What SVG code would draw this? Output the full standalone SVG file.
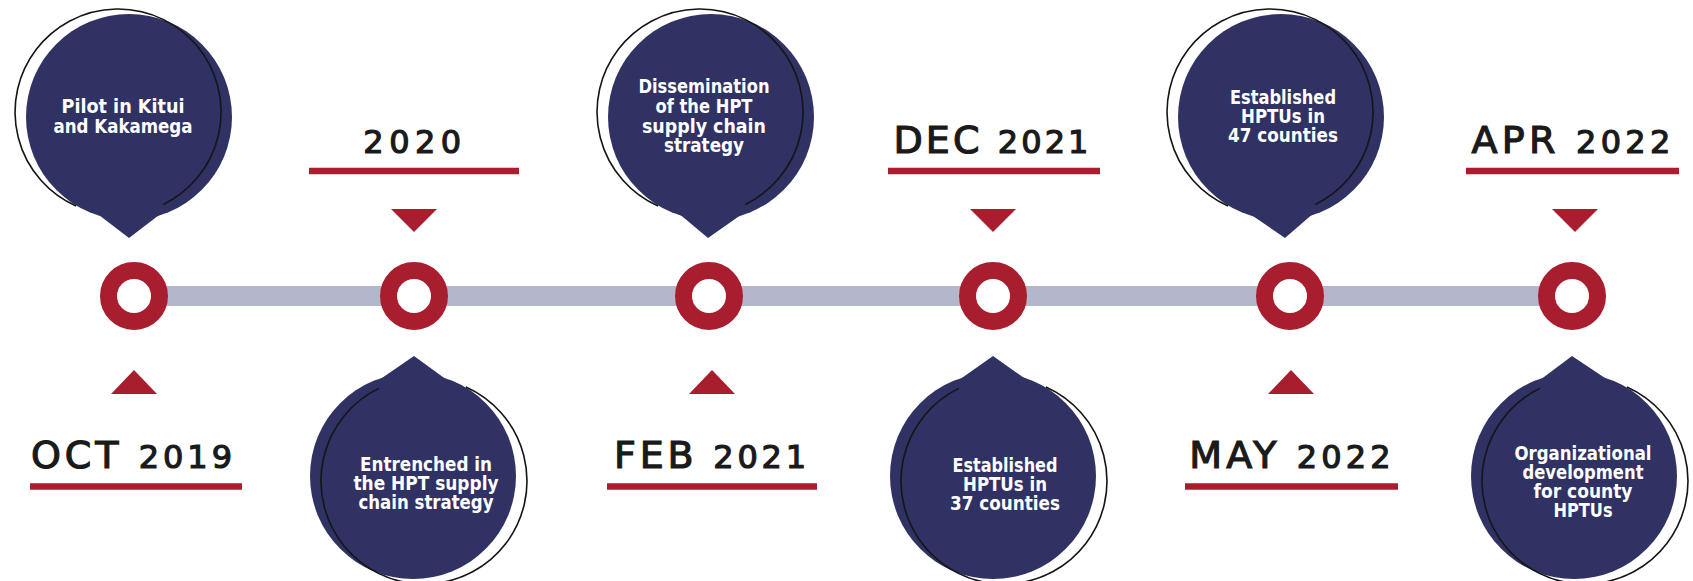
<svg xmlns="http://www.w3.org/2000/svg" width="1693" height="581" viewBox="0 0 1693 581">
<style>
.pin{fill:#2f3263}
.ol{fill:none;stroke:#151515;stroke-width:1.6}
.ring{fill:#ffffff;stroke:#a81e2e;stroke-width:17}
.tri{fill:#a81e2e}
.ul{stroke:#a81e2e;stroke-width:6.5}
.pt{font-family:"Liberation Sans Narrow","DejaVu Sans Condensed","Liberation Sans",sans-serif;font-weight:bold;font-size:19px;fill:#ffffff;text-anchor:middle}
.dt{font-family:"DejaVu Sans",sans-serif;font-size:38px;fill:#1a1a1a;stroke:#1a1a1a;stroke-width:1.2;text-anchor:middle}
.yr{font-size:32px}
</style>
<g id="connectors">
<rect x="134" y="286" width="1438" height="20" fill="#b4b6cc"/>
</g>
<g id="timeline-markers">
<circle class="ring" cx="134" cy="296" r="25.5"/>
<circle class="ring" cx="414" cy="296" r="25.5"/>
<circle class="ring" cx="709" cy="296" r="25.5"/>
<circle class="ring" cx="993" cy="296" r="25.5"/>
<circle class="ring" cx="1290" cy="296" r="25.5"/>
<circle class="ring" cx="1572" cy="296" r="25.5"/>
</g>
<g id="date-oct-2019">
<polygon class="tri" points="111,394 157,394 134,370"/>
<line class="ul" x1="30" y1="486.5" x2="242" y2="486.5"/>
<text class="dt" x="133.5" y="468" letter-spacing="4">OCT <tspan class="yr">2019</tspan></text>
</g>
<g id="date-2020">
<polygon class="tri" points="391,209 437,209 414,232"/>
<line class="ul" x1="309" y1="171" x2="519" y2="171"/>
<text class="dt" x="415" y="153" letter-spacing="5.5"><tspan class="yr">2020</tspan></text>
</g>
<g id="date-feb-2021">
<polygon class="tri" points="689,394 735,394 712,370"/>
<line class="ul" x1="607" y1="486.5" x2="817" y2="486.5"/>
<text class="dt" x="712" y="468" letter-spacing="3.8">FEB <tspan class="yr">2021</tspan></text>
</g>
<g id="date-dec-2021">
<polygon class="tri" points="970,209 1016,209 993,232"/>
<line class="ul" x1="888" y1="171" x2="1100" y2="171"/>
<text class="dt" x="992.5" y="153" letter-spacing="3.1">DEC <tspan class="yr">2021</tspan></text>
</g>
<g id="date-may-2022">
<polygon class="tri" points="1268,394 1314,394 1291,370"/>
<line class="ul" x1="1185" y1="486.5" x2="1398" y2="486.5"/>
<text class="dt" x="1292" y="468" letter-spacing="4.1">MAY <tspan class="yr">2022</tspan></text>
</g>
<g id="date-apr-2022">
<polygon class="tri" points="1552,209 1598,209 1575,232"/>
<line class="ul" x1="1466" y1="171" x2="1679" y2="171"/>
<text class="dt" x="1573" y="153" letter-spacing="4.3">APR <tspan class="yr">2022</tspan></text>
</g>
<g id="pin-pilot">
<circle class="pin" cx="129" cy="117" r="103"/>
<path class="pin" d="M95 212 L129 238 L163 212 Z"/>
<path class="ol" d="M76.1 206.1 A103 103 0 1 1 163.2 204.6"/>
<text class="pt" x="123" y="113" textLength="123" lengthAdjust="spacingAndGlyphs">Pilot in Kitui</text>
<text class="pt" x="123" y="133" textLength="139" lengthAdjust="spacingAndGlyphs">and Kakamega</text>
</g>
<g id="pin-entrenched">
<circle class="pin" cx="413" cy="476" r="103"/>
<path class="pin" d="M379 380 L414 356 L447 380 Z"/>
<path class="ol" d="M465.9 386.9 A103 103 0 1 1 378.8 388.4"/>
<text class="pt" x="426" y="471" textLength="132" lengthAdjust="spacingAndGlyphs">Entrenched in</text>
<text class="pt" x="426" y="490" textLength="145" lengthAdjust="spacingAndGlyphs">the HPT supply</text>
<text class="pt" x="426" y="509" textLength="135" lengthAdjust="spacingAndGlyphs">chain strategy</text>
</g>
<g id="pin-dissemination">
<circle class="pin" cx="711" cy="117" r="103"/>
<path class="pin" d="M677 212 L708 238 L745 212 Z"/>
<path class="ol" d="M658.1 206.1 A103 103 0 1 1 745.2 204.6"/>
<text class="pt" x="704" y="93" textLength="131" lengthAdjust="spacingAndGlyphs">Dissemination</text>
<text class="pt" x="704" y="113" textLength="97" lengthAdjust="spacingAndGlyphs">of the HPT</text>
<text class="pt" x="704" y="133" textLength="124" lengthAdjust="spacingAndGlyphs">supply chain</text>
<text class="pt" x="704" y="152" textLength="80" lengthAdjust="spacingAndGlyphs">strategy</text>
</g>
<g id="pin-established-37">
<circle class="pin" cx="993" cy="476" r="103"/>
<path class="pin" d="M959 380 L993 356 L1027 380 Z"/>
<path class="ol" d="M1045.9 386.9 A103 103 0 1 1 958.8 388.4"/>
<text class="pt" x="1005" y="472" textLength="105" lengthAdjust="spacingAndGlyphs">Established</text>
<text class="pt" x="1005" y="491" textLength="84" lengthAdjust="spacingAndGlyphs">HPTUs in</text>
<text class="pt" x="1005" y="510" textLength="110" lengthAdjust="spacingAndGlyphs">37 counties</text>
</g>
<g id="pin-established-47">
<circle class="pin" cx="1281" cy="117" r="103"/>
<path class="pin" d="M1247 212 L1285 238 L1315 212 Z"/>
<path class="ol" d="M1228.1 206.1 A103 103 0 1 1 1315.2 204.6"/>
<text class="pt" x="1283" y="104" textLength="106" lengthAdjust="spacingAndGlyphs">Established</text>
<text class="pt" x="1283" y="123" textLength="84" lengthAdjust="spacingAndGlyphs">HPTUs in</text>
<text class="pt" x="1283" y="142" textLength="110" lengthAdjust="spacingAndGlyphs">47 counties</text>
</g>
<g id="pin-organizational">
<circle class="pin" cx="1574" cy="476" r="103"/>
<path class="pin" d="M1540 380 L1572 356 L1608 380 Z"/>
<path class="ol" d="M1626.9 386.9 A103 103 0 1 1 1539.8 388.4"/>
<text class="pt" x="1583" y="460" textLength="137" lengthAdjust="spacingAndGlyphs">Organizational</text>
<text class="pt" x="1583" y="479" textLength="121" lengthAdjust="spacingAndGlyphs">development</text>
<text class="pt" x="1583" y="498" textLength="99" lengthAdjust="spacingAndGlyphs">for county</text>
<text class="pt" x="1583" y="517" textLength="59" lengthAdjust="spacingAndGlyphs">HPTUs</text>
</g>
</svg>
